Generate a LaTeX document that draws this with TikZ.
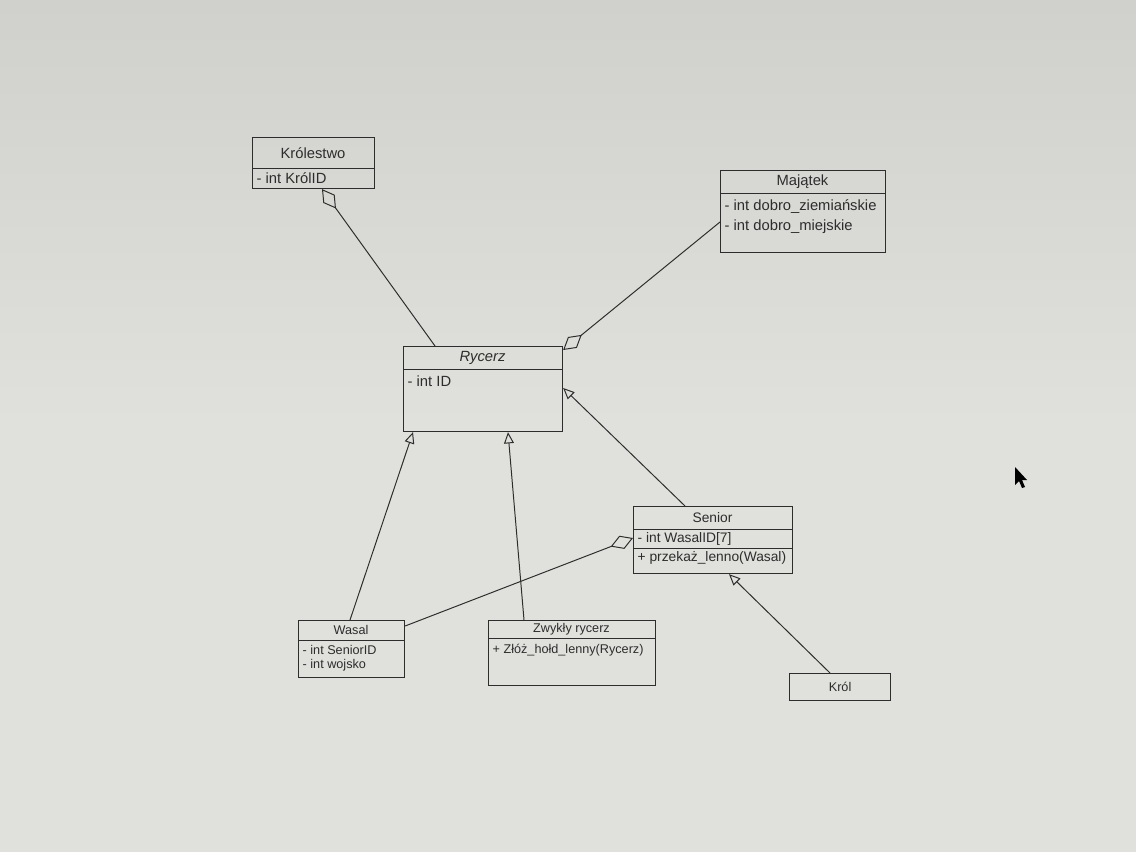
\documentclass[tikz,border=0pt]{standalone}
\usepackage{fontspec}
\setmainfont{Liberation Sans}
\usetikzlibrary{arrows.meta,calc}

\definecolor{screen}{RGB}{224,224,220}
\definecolor{screentop}{RGB}{208,208,204}
\definecolor{ink}{RGB}{45,45,45}

\tikzset{
  cls/.style={draw=ink, line width=0.8pt, anchor=north west, inner sep=0pt},
  title/.style={text=ink, inner sep=0pt},
  attr/.style={text=ink, anchor=north west, inner sep=1pt, align=left},
  sep/.style={draw=ink, line width=0.7pt},
  link/.style={draw=ink, line width=0.7pt},
  inherit/.style={link, -{Triangle[open, length=8pt, width=7pt]}},
  aggr/.style={link, -{Diamond[open, length=17pt, width=10pt]}},
  big/.style={font=\fontsize{10.5}{14}\selectfont},
  mid/.style={font=\fontsize{9.8}{13}\selectfont},
  small/.style={font=\fontsize{9}{9.8}\selectfont},
}

\begin{document}
\begin{tikzpicture}[x=0.025cm,y=-0.025cm]

\useasboundingbox (0,0) rectangle (1136,852);
\shade[top color=screentop, bottom color=screen, middle color=screen] (0,0) rectangle (1136,852);

% Krolestwo
\node[cls, minimum width=3.05cm, minimum height=1.275cm] (krolestwo) at (252,137) {};
\node[title, big] at (313,153) {Królestwo};
\draw[sep] (252,168) -- (374,168);
\node[attr, big] at (255,171) {- int KrólID};

% Majatek
\node[cls, minimum width=4.125cm, minimum height=2.05cm] (majatek) at (720,170) {};
\node[title, big] at (802.5,182) {Majątek};
\draw[sep] (720,193) -- (885,193);
\node[attr, big] at (723,198) {- int dobro\_ziemiańskie\\- int dobro\_miejskie};

% Rycerz (abstract)
\node[cls, minimum width=3.975cm, minimum height=2.125cm] (rycerz) at (403,346) {};
\node[title, big] at (482.5,357.5) {\itshape Rycerz};
\draw[sep] (403,369) -- (562,369);
\node[attr, big] at (406,374) {- int ID};

% Senior
\node[cls, minimum width=3.975cm, minimum height=1.675cm] (senior) at (633,506) {};
\node[title, mid] at (712.5,517.5) {Senior};
\draw[sep] (633,529) -- (792,529);
\node[attr, mid] at (636,531) {- int WasalID[7]};
\draw[sep] (633,548) -- (792,548);
\node[attr, mid] at (636,550) {+ przekaż\_lenno(Wasal)};

% Wasal
\node[cls, minimum width=2.65cm, minimum height=1.425cm] (wasal) at (298,620) {};
\node[title, small] at (351,630) {Wasal};
\draw[sep] (298,640) -- (404,640);
\node[attr, small] at (301,644) {- int SeniorID\\- int wojsko};

% Zwykly rycerz
\node[cls, minimum width=4.175cm, minimum height=1.625cm] (zwykly) at (488,620) {};
\node[title, small] at (571.5,629.5) {Zwykły rycerz};
\draw[sep] (488,638) -- (655,638);
\node[attr, small] at (491,642) {+ Złóż\_hołd\_lenny(Rycerz)};

% Krol
\node[cls, minimum width=2.525cm, minimum height=0.675cm] (krol) at (789,673) {};
\node[title, small] at (krol.center) {Król};

% aggregations
\draw[aggr] ($(rycerz.north west)+(32,0)$) -- ($(krolestwo.south west)+(70,0)$);
\draw[aggr] ($(majatek.north west)+(0,52)$) -- ($(rycerz.north east)+(0,4)$);
\draw[aggr] ($(wasal.north east)+(0,6)$) -- ($(senior.north west)+(0,32)$);

% generalizations
\draw[inherit] ($(wasal.north west)+(52,0)$) -- ($(rycerz.south west)+(10,0)$);
\draw[inherit] ($(zwykly.north west)+(36,0)$) -- ($(rycerz.south west)+(105,0)$);
\draw[inherit] ($(senior.north west)+(52,0)$) -- ($(rycerz.north east)+(0,42)$);
\draw[inherit] ($(krol.north west)+(41,0)$) -- ($(senior.south west)+(96,0)$);

% mouse pointer
\fill[black] (1015,467) -- (1015,485) -- (1019,481) -- (1022,488) -- (1025,487)
  -- (1022,480) -- (1027,480) -- cycle;

\end{tikzpicture}
\end{document}
